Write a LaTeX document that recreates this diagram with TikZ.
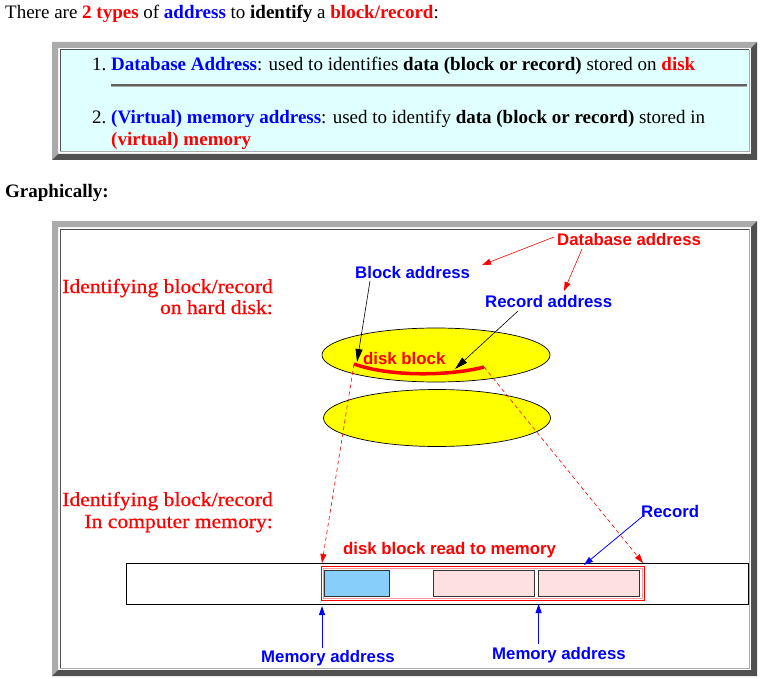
\documentclass[tikz,border=0pt]{standalone}
\usepackage{fontspec}
\setmainfont{Liberation Serif}
\newfontfamily\lsans{Liberation Sans}
\newfontfamily\lserif[FakeStretch=1.08,FakeBold=0.6]{Liberation Serif}
\usetikzlibrary{arrows.meta,shapes.geometric}
\definecolor{lightframe}{HTML}{ABABAB}
\definecolor{darkframe}{HTML}{505050}
\definecolor{cellcyan}{HTML}{E0FFFF}
\definecolor{memblue}{HTML}{87CEFA}
\definecolor{mempink}{HTML}{FFE0E0}
\definecolor{diskyellow}{HTML}{FFFF00}
\tikzset{
  html/.style={anchor=base west, inner sep=0pt, font=\fontsize{19}{22}\selectfont},
  lab/.style={anchor=base west, inner sep=0pt, font=\lsans\bfseries\fontsize{16.8}{18}\selectfont},
  serlab/.style={anchor=base east, inner sep=0pt, text=red, font=\lserif\fontsize{20}{22}\selectfont},
  redarrow/.style={red, line width=0.6pt, -{Triangle[length=9pt,width=6pt]}},
  blackarrow/.style={black, line width=0.6pt, -{Triangle[length=13pt,width=7pt]}},
  bluearrow/.style={blue, line width=0.8pt, -{Triangle[length=9pt,width=6pt]}},
  dasharrow/.style={red, line width=0.6pt, dash pattern=on 4pt off 3pt, -{Triangle[length=9pt,width=6pt]}},
  disk/.style={ellipse, draw=black, line width=0.7pt, fill=diskyellow},
  membox/.style={draw=black!80, line width=1pt},
}
\begin{document}
\begin{tikzpicture}[x=1pt,y=-1pt]
\useasboundingbox (0,0) rectangle (762,679);
\fill[white] (0,0) rectangle (762,679);
% ---- top text
\node[html] (intro) at (5,18.5) {There are \textbf{\color{red}2 types} of \textbf{\color{blue}address} to \textbf{identify} a \textbf{\color{red}block/record}:};
% ---- list box frame
\fill[lightframe] (52,42) -- (757,42) -- (751,48) -- (58,48) -- (58,154) -- (52,160) -- cycle;
\fill[darkframe] (757,42) -- (757,160) -- (52,160) -- (58,154) -- (751,154) -- (751,48) -- cycle;
\fill[cellcyan] (60,50) rectangle (749,152);
\draw[darkframe, line width=1pt] (60,152) -- (60,50) -- (749,50);
\draw[lightframe, line width=1pt] (749,50) -- (749,152) -- (60,152);
\node[html] (n1) at (92,70.5) {1.};
\node[html] (l1) at (111,70.5) {\textbf{\color{blue}Database Address}: used to identifies \textbf{data (block or record)} stored on \textbf{\color{red}disk}};
\draw[darkframe!90, line width=1.2pt] (111,85) -- (747,85);
\draw[lightframe, line width=0.6pt] (111,86.3) -- (747,86.3);
\node[html] (n2) at (92,123.5) {2.};
\node[html] (l2) at (111,123.5) {\textbf{\color{blue}(Virtual) memory address}: used to identify \textbf{data (block or record)} stored in};
\node[html] (l3) at (111,145.5) {\textbf{\color{red}(virtual) memory}};
% ---- Graphically
\node[html] (graph) at (5,197.5) {\textbf{Graphically:}};
% ---- diagram frame
\fill[lightframe] (52,221) -- (757,221) -- (751,227) -- (58,227) -- (58,670) -- (52,676) -- cycle;
\fill[darkframe] (757,221) -- (757,676) -- (52,676) -- (58,670) -- (751,670) -- (751,227) -- cycle;
\fill[white] (60,229) rectangle (749,668);
\draw[darkframe, line width=1pt] (60,668) -- (60,229) -- (749,229);
\draw[lightframe, line width=1pt] (749,229) -- (749,668) -- (60,668);
% ---- left labels
\node[serlab] (hd1) at (273,293) {Identifying block/record};
\node[serlab] (hd2) at (273,314) {on hard disk:};
\node[serlab] (cm1) at (273,506) {Identifying block/record};
\node[serlab] (cm2) at (273,528) {In computer memory:};
% ---- disks
\node[disk, minimum width=228pt, minimum height=54pt] (disk1) at (436,355) {};
\node[disk, minimum width=227pt, minimum height=57pt] (disk2) at (437,418) {};
% ---- labels top
\node[lab, text=red] (dba) at (557,245) {Database address};
\node[lab, text=blue] (blka) at (355,278) {Block address};
\node[lab, text=blue] (reca) at (485,307) {Record address};
\node[lab, text=red] (dblk) at (363,364) {disk block};
% ---- disk block curve
\coordinate (cbL) at (354,364);
\coordinate (cbR) at (484,367);
\draw[red, line width=3.5pt] (cbL) .. controls (390,377) and (450,376) .. (cbR);
% ---- arrows
\coordinate (dbaA) at (554,237);
\coordinate (dbaB) at (582,249);
\coordinate (tipBlk) at (482,265);
\coordinate (tipRec) at (564,291);
\draw[redarrow] (dbaA) -- (tipBlk);
\draw[redarrow] (dbaB) -- (tipRec);
\coordinate (blkS) at (370,281);
\coordinate (blkT) at (357,362);
\draw[blackarrow] (blkS) -- (blkT);
\coordinate (recS) at (518,311);
\coordinate (recT) at (455,369);
\draw[blackarrow] (recS) -- (recT);
% ---- memory
\node[draw=black, line width=1pt, minimum width=622pt, minimum height=41pt, inner sep=0pt] (bar) at (437,583.5) {};
\node[draw=red, line width=1pt, minimum width=323pt, minimum height=34pt, inner sep=0pt] (blockmem) at (482.5,583) {};
\draw[red!40, line width=0.6pt] (322.8,567.8) rectangle (642.2,598.2);
\node[membox, fill=memblue, minimum width=65pt, minimum height=26pt, inner sep=0pt] (mb) at (357,583) {};
\node[membox, fill=mempink, minimum width=101pt, minimum height=26pt, inner sep=0pt] (p1) at (484,583) {};
\node[membox, fill=mempink, minimum width=101pt, minimum height=26pt, inner sep=0pt] (p2) at (589,583) {};
\node[lab, text=red] (dbrm) at (343,554) {disk block read to memory};
\node[lab, text=blue] (rec) at (641,517) {Record};
\node[lab, text=blue] (ma1) at (261,662) {Memory address};
\node[lab, text=blue] (ma2) at (492,659) {Memory address};
\coordinate (mL) at (322,563);
\coordinate (mR) at (643,563);
\draw[dasharrow] (cbL) -- (mL);
\draw[dasharrow] (cbR) -- (mR);
\coordinate (recS2) at (643,516);
\coordinate (recT2) at (584,565);
\draw[bluearrow] (recS2) -- (recT2);
\coordinate (ma1S) at (322,648);
\coordinate (ma1T) at (322,606);
\coordinate (ma2S) at (538.6,644);
\coordinate (ma2T) at (538.6,604);
\draw[bluearrow] (ma1S) -- (ma1T);
\draw[bluearrow] (ma2S) -- (ma2T);
\end{tikzpicture}
\end{document}
